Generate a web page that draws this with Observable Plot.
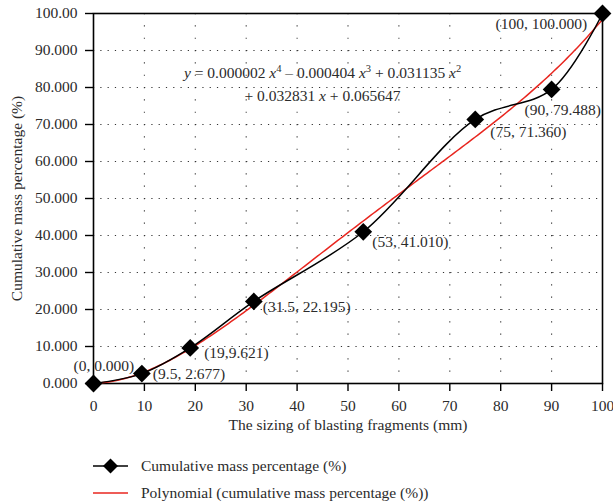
<!DOCTYPE html>
<html>
<head>
<meta charset="utf-8">
<script src="https://cdn.jsdelivr.net/npm/d3@7"></script>
<script src="https://cdn.jsdelivr.net/npm/@observablehq/plot@0.6"></script>
<style>
  body { margin: 0; background: #fff; }
  #chart { width: 613px; }
  .legend { font-family: "Liberation Serif", serif; font-size: 15.5px; color: #2b2b2b; margin-left: 93px; margin-top: 12px; }
  .legend .row { display: flex; align-items: center; height: 27px; }
  .legend svg { margin-right: 13px; flex: none; }
</style>
</head>
<body>
<div id="chart"></div>
<script>
// Sieve data: fragment size (mm) vs cumulative passing mass (%)
const sizing = [0, 9.5, 19, 31.5, 53, 75, 90, 100];
const cumulative = [0, 2.677, 9.621, 22.195, 41.010, 71.360, 79.488, 100];
const pointLabels = ["(0, 0.000)", "(9.5, 2.677)", "(19,9.621)", "(31.5, 22.195)",
                     "(53, 41.010)", "(75, 71.360)", "(90, 79.488)", "(100, 100.000)"];

const xTicks = [0, 10, 20, 30, 40, 50, 60, 70, 80, 90, 100];
const yTicks = [0, 10, 20, 30, 40, 50, 60, 70, 80, 90, 100];
const yTickLabels = ["0.000", "10.000", "20.000", "30.000", "40.000", "50.000",
                     "60.000", "70.000", "80.000", "90.000", "100.00"];

const seriesNames = ["Cumulative mass percentage (%)", "Polynomial (cumulative mass percentage (%))"];
const xTitle = "The sizing of blasting fragments (mm)";
const yTitle = "Cumulative mass percentage (%)";
const equationLines = ["y = 0.000002 x^4 – 0.000404 x^3 + 0.031135 x^2",
                       "+ 0.032831 x + 0.065647"];

const points = sizing.map((s, i) => ({x: s, y: cumulative[i], label: pointLabels[i]}));

// Least-squares quartic trend line fitted to the measured points
function polyFit(xs, ys, degree) {
  const n = degree + 1;
  const A = Array.from({length: n}, () => new Array(n + 1).fill(0));
  xs.forEach((xv, k) => {
    const t = xv / 100;
    for (let r = 0; r < n; r++) {
      for (let c = 0; c < n; c++) A[r][c] += Math.pow(t, r + c);
      A[r][n] += ys[k] * Math.pow(t, r);
    }
  });
  for (let i = 0; i < n; i++) {
    let p = i;
    for (let r = i + 1; r < n; r++) if (Math.abs(A[r][i]) > Math.abs(A[p][i])) p = r;
    [A[i], A[p]] = [A[p], A[i]];
    for (let r = 0; r < n; r++) {
      if (r === i) continue;
      const f = A[r][i] / A[i][i];
      for (let c = i; c <= n; c++) A[r][c] -= f * A[i][c];
    }
  }
  const coef = A.map((row, i) => row[n] / row[i]);
  return xv => coef.reduce((s, c, i) => s + c * Math.pow(xv / 100, i), 0);
}
const trend = polyFit(sizing, cumulative, 4);
const trendPts = d3.range(0, 100.01, 0.5).map(x => ({x, y: trend(x)}));

const red = "#e8261f";
const ink = "#2b2b2b";

// label placement relative to each diamond (px)
const labelOffsets = [[-20, -17], [11, 0], [14, 5], [9, 6], [9, 10], [15, 13], [-27, 21], [-107, 11]];

const chart = Plot.plot({
  width: 613,
  height: 440,
  marginLeft: 93,
  marginRight: 11,
  marginTop: 13,
  marginBottom: 57,
  style: {fontFamily: "Liberation Serif, serif", fontSize: "15.5px", color: ink, background: "#fff"},
  x: {domain: [0, 100]},
  y: {domain: [0, 100]},
  marks: [
    Plot.gridY(yTicks.slice(1, -1), {stroke: "#333", strokeOpacity: 1, strokeWidth: 1.1, strokeDasharray: "1.2,6.09"}),
    Plot.gridX(xTicks.slice(1, -1), {stroke: "#333", strokeOpacity: 1, strokeWidth: 1.1, strokeDasharray: "1.2,11.13"}),
    Plot.axisY(yTicks, {tickSize: 8, tickPadding: 8, tickFormat: (d, i) => yTickLabels[i], label: null, stroke: "#000", strokeWidth: 1.4, fill: ink}),
    Plot.axisX(xTicks, {tickSize: 8, tickPadding: 8, tickFormat: d => String(d), label: null, stroke: "#000", strokeWidth: 1.4, fill: ink}),
    Plot.frame({stroke: "#000", strokeWidth: 1.6}),
    Plot.text([yTitle], {frameAnchor: "left", textAnchor: "middle", rotate: -90, dx: -76, fill: ink}),
    Plot.text([xTitle], {frameAnchor: "bottom", textAnchor: "middle", dy: 46, fill: ink}),
    Plot.text(equationLines, {x: 45, y: (d, i) => i === 0 ? 83.8 : 77.6, text: d => d, fill: ink, textAnchor: "middle"}),
    Plot.line(trendPts, {x: "x", y: "y", stroke: red, strokeWidth: 1.5}),
    Plot.line(points, {x: "x", y: "y", curve: "catmull-rom", stroke: "#000", strokeWidth: 1.5}),
    ...points.map((p, i) => Plot.text([p], {x: "x", y: "y", text: "label", textAnchor: "start",
      dx: labelOffsets[i][0], dy: labelOffsets[i][1], fill: ink})),
    Plot.dot(points, {x: "x", y: "y", symbol: "diamond2", r: 8, fill: "#000", stroke: "none"})
  ]
});

// italic variables and superscript exponents in the fitted equation
d3.select(chart).selectAll("text").each(function() {
  const s = this.textContent;
  if (!equationLines.includes(s)) return;
  this.textContent = "";
  const el = d3.select(this);
  const re = /([xy])(?:\^(\d))?/g;
  let last = 0, m, raised = false;
  const add = (txt, opts = {}) => {
    const t = el.append("tspan").text(txt);
    if (opts.italic) t.attr("font-style", "italic");
    if (opts.sup) { t.attr("font-size", "10.5px").attr("dy", -6); raised = true; }
    else if (raised) { t.attr("dy", 6); raised = false; }
  };
  while ((m = re.exec(s))) {
    if (m.index > last) add(s.slice(last, m.index));
    add(m[1], {italic: true});
    if (m[2]) add(m[2], {sup: true});
    last = re.lastIndex;
  }
  if (last < s.length) add(s.slice(last));
});

document.getElementById("chart").append(chart);

// legend below the plot
const legend = d3.select("#chart").append("div").attr("class", "legend");
seriesNames.forEach((name, i) => {
  const row = legend.append("div").attr("class", "row");
  const sw = row.append("svg").attr("width", 35).attr("height", 16);
  sw.append("line").attr("x1", 0).attr("x2", 35).attr("y1", 8).attr("y2", 8)
    .attr("stroke", i === 0 ? "#000" : red).attr("stroke-width", 1.5);
  if (i === 0) sw.append("path").attr("d", "M17.5,0.5L25,8L17.5,15.5L10,8Z").attr("fill", "#000");
  row.append("span").text(name);
});
</script>
</body>
</html>
